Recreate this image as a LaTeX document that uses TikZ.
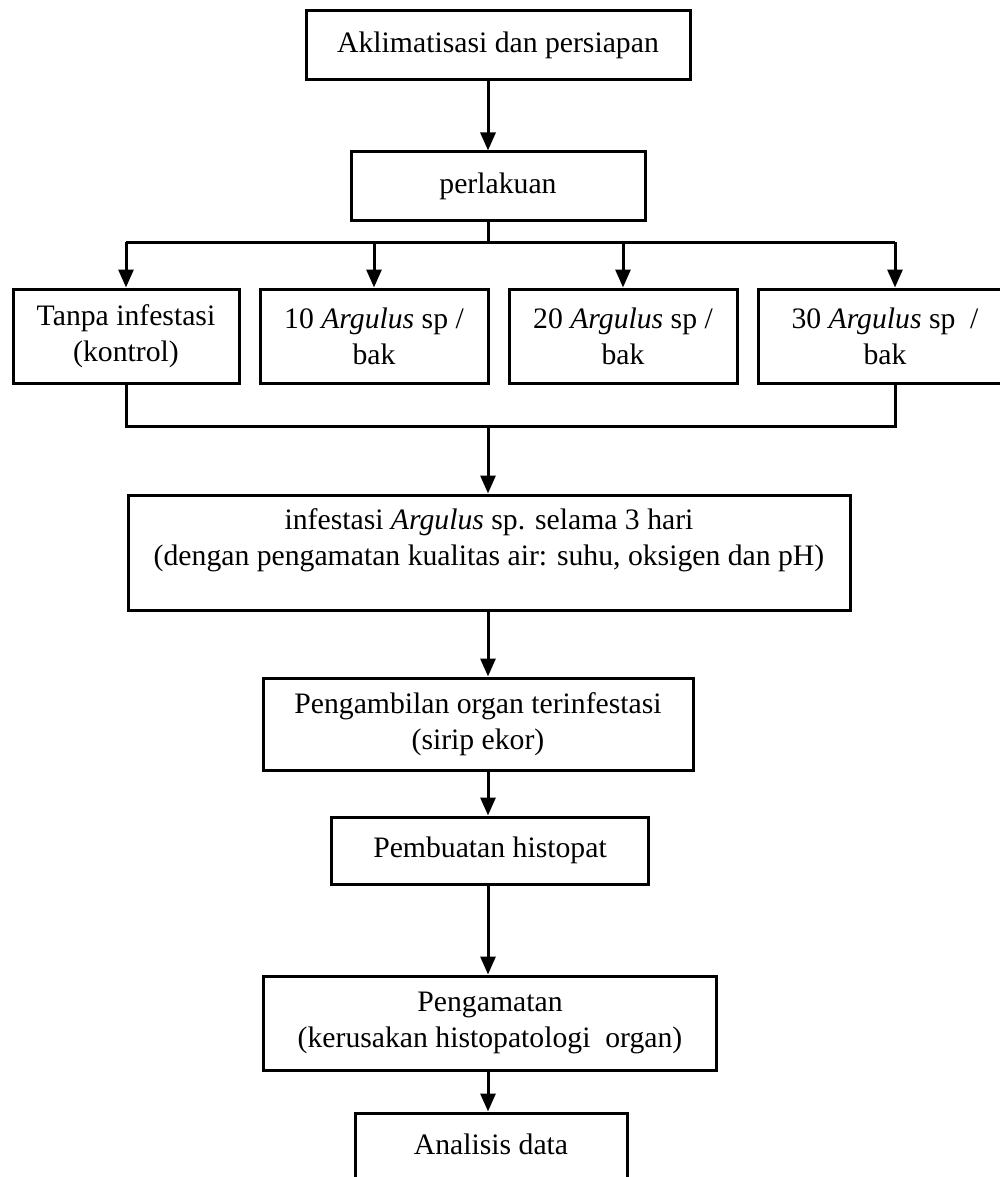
\documentclass[tikz,border=0pt]{standalone}
\usepackage{fontspec}
\setmainfont{Liberation Serif}
\usetikzlibrary{arrows.meta}
\begin{document}
\begin{tikzpicture}[x=1pt,y=-1pt,
  box/.style={draw, line width=3pt, rectangle, inner sep=0pt, align=center, font=\fontsize{29.7}{36}\selectfont},
  txt/.style={align=center, inner sep=0pt, font=\fontsize{29.7}{36}\selectfont},
  ln/.style={line width=3pt},
  arr/.style={line width=3pt, -{Triangle[length=18pt,width=15pt]}}]
\useasboundingbox (0,0) rectangle (1000,1177);
% boxes
\node[box, minimum width=384pt, minimum height=69pt] (b1) at (498,45.5) {Aklimatisasi dan persiapan};
\node[box, minimum width=294pt, minimum height=68pt] (b2) at (498,186) {perlakuan};
\node[box, minimum width=226pt, minimum height=94pt] (r1) at (126,336) {Tanpa infestasi\\(kontrol)};
\node[box, minimum width=228pt, minimum height=94pt] (r2) at (374,336) {10 \textit{Argulus} sp /\\bak};
\node[box, minimum width=228pt, minimum height=94pt] (r3) at (623,336) {20 \textit{Argulus} sp /\\bak};
\node[box, minimum width=254pt, minimum height=94pt] (r4) at (885,336) {30 \textit{Argulus} sp~~/\\bak};
\node[box, minimum width=722pt, minimum height=115pt] (b4) at (489,552.5) {};
\node[txt] (t4) at (489,540) {infestasi \textit{Argulus} sp. selama 3 hari\\(dengan pengamatan kualitas air: suhu, oksigen dan pH)};
\node[box, minimum width=430pt, minimum height=92pt] (b5) at (478,724) {Pengambilan organ terinfestasi\\(sirip ekor)};
\node[box, minimum width=317pt, minimum height=67pt] (b6) at (490,850.5) {Pembuatan histopat};
\node[box, minimum width=453pt, minimum height=94pt] (b7) at (490,1023) {Pengamatan\\(kerusakan histopatologi~~organ)};
\node[box, minimum width=272pt, minimum height=76pt] (b8) at (491,1151) {};
\node[txt] (t8) at (491,1144) {Analisis data};
% helper coordinates
\coordinate (mx) at (488,0);
\coordinate (x4) at (895,0);
\coordinate (split) at (488,242);
\coordinate (merge) at (488,426);
% connectors
\draw[arr] (b1.south -| mx) -- (b2.north -| mx);
\draw[ln] (b2.south -| mx) -- (split);
\draw[ln] (r1 |- split) -- (x4 |- split);
\draw[arr] (r1 |- split) -- (r1.north);
\draw[arr] (r2 |- split) -- (r2.north);
\draw[arr] (r3 |- split) -- (r3.north);
\draw[arr] (x4 |- split) -- (r4.north -| x4);
\draw[ln] (r1.south) -- (r1 |- merge) -- (x4 |- merge) -- (r4.south -| x4);
\draw[arr] (merge) -- (b4.north -| mx);
\draw[arr] (b4.south -| mx) -- (b5.north -| mx);
\draw[arr] (b5.south -| mx) -- (b6.north -| mx);
\draw[arr] (b6.south -| mx) -- (b7.north -| mx);
\draw[arr] (b7.south -| mx) -- (b8.north -| mx);
\end{tikzpicture}
\end{document}
